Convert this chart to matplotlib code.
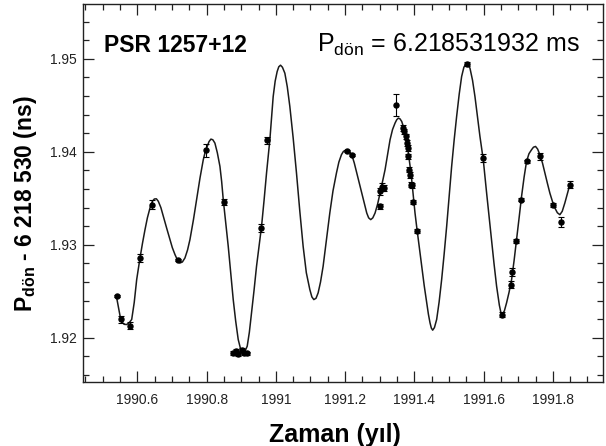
import numpy as np
import matplotlib
matplotlib.use('Agg')
import matplotlib.pyplot as plt
from matplotlib.ticker import MultipleLocator

plt.rcParams['font.family'] = ['Liberation Sans', 'DejaVu Sans']
plt.rcParams['mathtext.fontset'] = 'custom'
plt.rcParams['mathtext.rm'] = 'Liberation Sans'
plt.rcParams['mathtext.it'] = 'Liberation Sans:italic'
plt.rcParams['mathtext.bf'] = 'Liberation Sans:bold'

# fitted timing curve
curve_year = [
    1990.5404, 1990.5529, 1990.5620, 1990.5692, 1990.5760, 1990.5837, 1990.5910, 1990.5981,
    1990.6077, 1990.6150, 1990.6221, 1990.6290, 1990.6365, 1990.6430, 1990.6490, 1990.6550,
    1990.6606, 1990.6680, 1990.6750, 1990.6850, 1990.6942, 1990.7010, 1990.7087, 1990.7160,
    1990.7231, 1990.7300, 1990.7375, 1990.7450, 1990.7519, 1990.7620, 1990.7712, 1990.7810,
    1990.7904, 1990.7960, 1990.8019, 1990.8070, 1990.8125, 1990.8180, 1990.8240, 1990.8310,
    1990.8385, 1990.8435, 1990.8481, 1990.8550, 1990.8625, 1990.8700, 1990.8769, 1990.8840,
    1990.8913, 1990.8985, 1990.9058, 1990.9115, 1990.9173, 1990.9235, 1990.9298, 1990.9370,
    1990.9442, 1990.9515, 1990.9587, 1990.9660, 1990.9731, 1990.9780, 1990.9827, 1990.9875,
    1990.9923, 1990.9980, 1991.0038, 1991.0085, 1991.0135, 1991.0190, 1991.0260, 1991.0330,
    1991.0404, 1991.0500, 1991.0596, 1991.0690, 1991.0788, 1991.0880, 1991.0981, 1991.1040,
    1991.1096, 1991.1160, 1991.1221, 1991.1290, 1991.1365, 1991.1460, 1991.1558, 1991.1650,
    1991.1750, 1991.1820, 1991.1894, 1991.1952, 1991.2048, 1991.2120, 1991.2192, 1991.2265,
    1991.2337, 1991.2410, 1991.2481, 1991.2555, 1991.2625, 1991.2680, 1991.2740, 1991.2800,
    1991.2865, 1991.2940, 1991.3010, 1991.3080, 1991.3154, 1991.3225, 1991.3298, 1991.3370,
    1991.3442, 1991.3490, 1991.3538, 1991.3585, 1991.3635, 1991.3680, 1991.3731, 1991.3780,
    1991.3827, 1991.3875, 1991.3923, 1991.3970, 1991.4019, 1991.4065, 1991.4115, 1991.4165,
    1991.4212, 1991.4285, 1991.4356, 1991.4405, 1991.4452, 1991.4490, 1991.4529, 1991.4580,
    1991.4644, 1991.4715, 1991.4788, 1991.4860, 1991.4933, 1991.5005, 1991.5077, 1991.5150,
    1991.5221, 1991.5295, 1991.5365, 1991.5430, 1991.5490, 1991.5545, 1991.5606, 1991.5680,
    1991.5750, 1991.5820, 1991.5894, 1991.5990, 1991.6087, 1991.6160, 1991.6231, 1991.6300,
    1991.6375, 1991.6455, 1991.6500, 1991.6538, 1991.6600, 1991.6663, 1991.6735, 1991.6808,
    1991.6880, 1991.6952, 1991.7025, 1991.7096, 1991.7170, 1991.7240, 1991.7310, 1991.7385,
    1991.7440, 1991.7500, 1991.7560, 1991.7625, 1991.7700, 1991.7769, 1991.7840, 1991.7913,
    1991.7985, 1991.8058, 1991.8130, 1991.8202, 1991.8270, 1991.8346, 1991.8420, 1991.8490]
curve_p = [
    1.92429, 1.92179, 1.92145, 1.92143, 1.92160, 1.92197, 1.92380, 1.92626,
    1.92859, 1.93020, 1.93163, 1.93290, 1.93396, 1.93465, 1.93493, 1.93495,
    1.93468, 1.93400, 1.93306, 1.93175, 1.93056, 1.92970, 1.92895, 1.92835,
    1.92805, 1.92815, 1.92859, 1.92945, 1.93056, 1.93270, 1.93486, 1.93720,
    1.93915, 1.94000, 1.94058, 1.94110, 1.94137, 1.94130, 1.94094, 1.93990,
    1.93844, 1.93680, 1.93486, 1.93240, 1.92984, 1.92690, 1.92411, 1.92180,
    1.91982, 1.91875, 1.91839, 1.91860, 1.91910, 1.92060, 1.92268, 1.92510,
    1.92769, 1.92985, 1.93199, 1.93480, 1.93772, 1.93950, 1.94130, 1.94360,
    1.94595, 1.94760, 1.94864, 1.94915, 1.94932, 1.94910, 1.94846, 1.94700,
    1.94488, 1.94150, 1.93772, 1.93370, 1.92984, 1.92700, 1.92519, 1.92440,
    1.92411, 1.92425, 1.92483, 1.92600, 1.92769, 1.93050, 1.93342, 1.93580,
    1.93772, 1.93890, 1.93969, 1.94005, 1.94023, 1.94005, 1.93969, 1.93880,
    1.93772, 1.93665, 1.93557, 1.93445, 1.93342, 1.93290, 1.93271, 1.93290,
    1.93342, 1.93440, 1.93557, 1.93680, 1.93808, 1.93970, 1.94130, 1.94240,
    1.94309, 1.94345, 1.94363, 1.94355, 1.94327, 1.94275, 1.94202, 1.94100,
    1.93987, 1.93850, 1.93700, 1.93525, 1.93342, 1.93200, 1.93056, 1.92910,
    1.92769, 1.92560, 1.92376, 1.92255, 1.92161, 1.92105, 1.92082, 1.92110,
    1.92197, 1.92385, 1.92626, 1.92900, 1.93199, 1.93520, 1.93844, 1.94130,
    1.94381, 1.94620, 1.94810, 1.94910, 1.94946, 1.94935, 1.94900, 1.94770,
    1.94595, 1.94390, 1.94166, 1.93915, 1.93557, 1.93300, 1.93056, 1.92800,
    1.92555, 1.92350, 1.92270, 1.92250, 1.92290, 1.92376, 1.92490, 1.92626,
    1.92830, 1.93056, 1.93290, 1.93521, 1.93730, 1.93897, 1.93980, 1.94023,
    1.94050, 1.94058, 1.94030, 1.93969, 1.93880, 1.93772, 1.93665, 1.93557,
    1.93470, 1.93396, 1.93345, 1.93324, 1.93360, 1.93450, 1.93550, 1.93647]

# measured periods with error bars
obs_year = [1990.5404, 1990.5529, 1990.5788, 1990.6077, 1990.6433, 1990.7163, 1990.7971,
            1990.8490, 1990.8769, 1990.8846, 1990.8913, 1990.9010, 1990.9077, 1990.9154,
            1990.9558, 1990.9750, 1991.2067, 1991.2192, 1991.3010, 1991.3019, 1991.3067,
            1991.3115, 1991.3462, 1991.3683, 1991.3712, 1991.3750, 1991.3779, 1991.3808,
            1991.3827, 1991.3856, 1991.3875, 1991.3904, 1991.3942, 1991.3971, 1991.4087,
            1991.5510, 1991.5971, 1991.6519, 1991.6779, 1991.6827, 1991.6933, 1991.7077,
            1991.7240, 1991.7625, 1991.8010, 1991.8221, 1991.8490]
obs_p = [1.92447, 1.92197, 1.92132, 1.92859, 1.93432, 1.92834, 1.94015,
         1.93460, 1.91839, 1.91857, 1.91821, 1.91874, 1.91839, 1.91832,
         1.93181, 1.94123, 1.94012, 1.93969, 1.93414, 1.93575, 1.93622,
         1.93611, 1.94506, 1.94255, 1.94220, 1.94166, 1.94094, 1.94040,
         1.93951, 1.93808, 1.93754, 1.93647, 1.93640, 1.93457, 1.93145,
         1.94946, 1.93933, 1.92250, 1.92573, 1.92709, 1.93038, 1.93486,
         1.93897, 1.93951, 1.93432, 1.93246, 1.93647]
obs_err = [0.0001, 0.0004, 0.0004, 0.0004, 0.0005, 0.0001, 0.0007,
           0.0003, 0.0002, 0.0002, 0.0002, 0.0002, 0.0002, 0.0002,
           0.0004, 0.0004, 0.0001, 0.0001, 0.0003, 0.0004, 0.0004,
           0.0003, 0.0012, 0.0003, 0.0003, 0.0003, 0.0003, 0.0003,
           0.0003, 0.0003, 0.0003, 0.0003, 0.0003, 0.0002, 0.0002,
           0.0002, 0.0004, 0.0003, 0.0004, 0.0004, 0.0002, 0.0002,
           0.0002, 0.0004, 0.0002, 0.0005, 0.0004]

x_ticks = [1990.6, 1990.8, 1991.0, 1991.2, 1991.4, 1991.6, 1991.8]
x_labels = ['1990.6', '1990.8', '1991', '1991.2', '1991.4', '1991.6', '1991.8']
y_ticks = [1.92, 1.93, 1.94, 1.95]
y_labels = ['1.92', '1.93', '1.94', '1.95']

fig = plt.figure(figsize=(6.06, 4.46), dpi=100)
ax = fig.add_axes([0.1375, 0.1442, 0.8571, 0.8468])

ax.plot(curve_year, curve_p, color='#1a1a1a', lw=1.1, zorder=2)
ax.errorbar(obs_year, obs_p, yerr=obs_err, fmt='o', ms=3.6, color='black',
            ecolor='black', elinewidth=0.8, capsize=2, capthick=0.8, zorder=3)

ax.set_xlim(1990.444, 1991.944)
ax.set_ylim(1.91528, 1.9559)

ax.set_xticks(x_ticks)
ax.set_xticklabels(x_labels)
ax.set_yticks(y_ticks)
ax.set_yticklabels(y_labels)
ax.xaxis.set_minor_locator(MultipleLocator(0.05))
ax.yaxis.set_minor_locator(MultipleLocator(0.002))
ax.tick_params(which='both', direction='in', top=True, right=True, width=0.9, colors='#222222')
ax.tick_params(which='major', length=8, labelsize=10)
ax.tick_params(axis='x', which='major', pad=8)
ax.tick_params(axis='y', which='major', pad=5)
ax.tick_params(which='minor', length=4)
for s in ax.spines.values():
    s.set_linewidth(1.0)
    s.set_color('#222222')

ax.text(0.040, 0.873, 'PSR 1257+12', transform=ax.transAxes, fontsize=16.5,
        fontweight='bold', ha='left', va='baseline')
ax.text(0.956, 0.873, 'P$_{\\mathrm{dön}}$ = 6.218531932 ms', transform=ax.transAxes,
        fontsize=18, ha='right', va='baseline')

fig.text(0.0413, 0.5437, 'P$_{\\mathbf{dön}}$ - 6 218 530 (ns)', rotation=90,
         fontsize=16.5, fontweight='bold', ha='center', va='center')
fig.text(0.552, 0.009, 'Zaman (yıl)', fontsize=18, fontweight='bold',
         ha='center', va='baseline')

fig.savefig('out.png', dpi=100)
